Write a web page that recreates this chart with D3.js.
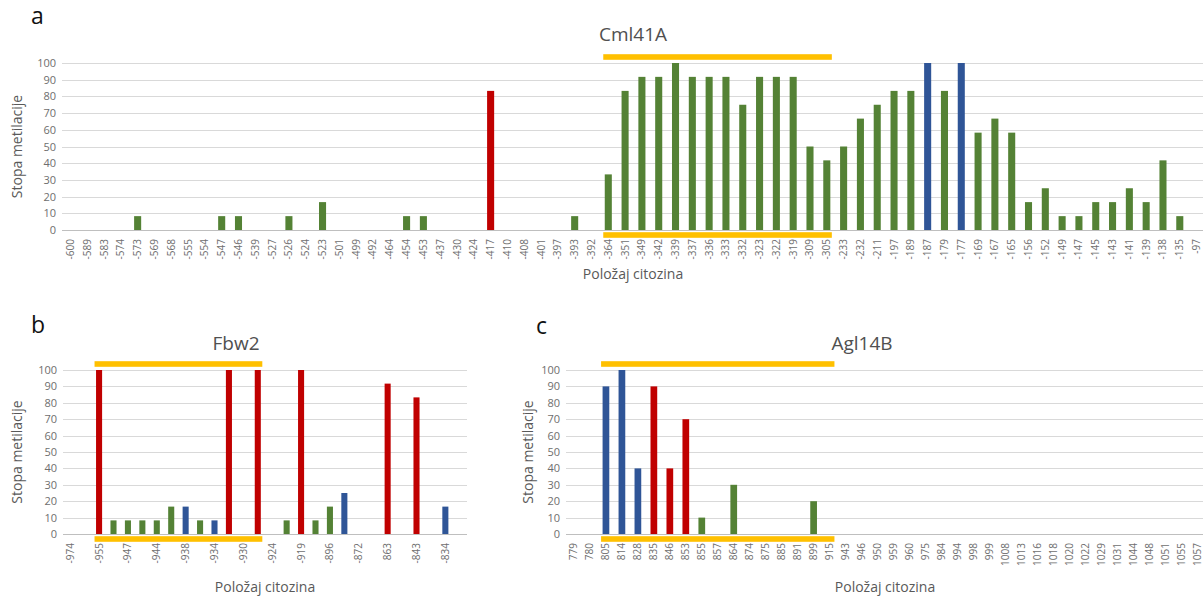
<!DOCTYPE html>
<html>
<head>
<meta charset="utf-8">
<script src="https://cdn.jsdelivr.net/npm/d3@7"></script>
<style>
  body { margin: 0; background: #fff; }
  text { font-family: "Open Sans", "Liberation Sans", sans-serif; }
</style>
</head>
<body>
<div id="chart"></div>
<script>
// ---- data ----
// panel a: Cml41A
var cml_positions = ['-600','-589','-583','-574','-573','-569','-568','-555','-554','-547','-546','-539','-527','-526','-524','-523','-501','-499','-492','-464','-454','-453','-437','-430','-424','-417','-410','-408','-401','-397','-393','-392','-364','-351','-349','-342','-339','-337','-336','-333','-332','-323','-322','-319','-309','-305','-233','-232','-211','-197','-189','-187','-179','-177','-169','-167','-165','-156','-152','-149','-147','-145','-143','-141','-139','-138','-135','-97'];
var cml_values = [0,0,0,0,8.3,0,0,0,0,8.3,8.3,0,0,8.3,0,16.7,0,0,0,0,8.3,8.3,0,0,0,83.3,0,0,0,0,8.3,0,33.3,83.3,91.7,91.7,100,91.7,91.7,91.7,75,91.7,91.7,91.7,50,41.7,50,66.7,75,83.3,83.3,100,83.3,100,58.3,66.7,58.3,16.7,25,8.3,8.3,16.7,16.7,25,16.7,41.7,8.3,0];
var cml_context = ['CHH','CHH','CHH','CHH','CHH','CHH','CHH','CHH','CHH','CHH','CHH','CHH','CHH','CHH','CHH','CHH','CHH','CHH','CHH','CHH','CHH','CHH','CHH','CHH','CHH','CG','CHH','CHH','CHH','CHH','CHH','CHH','CHH','CHH','CHH','CHH','CHH','CHH','CHH','CHH','CHH','CHH','CHH','CHH','CHH','CHH','CHH','CHH','CHH','CHH','CHH','CHG','CHH','CHG','CHH','CHH','CHH','CHH','CHH','CHH','CHH','CHH','CHH','CHH','CHH','CHH','CHH','CHH'];
var cml_region = ['-364', '-305'];

// panel b: Fbw2 (only every second label is printed)
var fbw_positions = ['-974','-960','-955','-950','-947','-946','-944','-940','-938','-936','-934','-932','-930','-926','-924','-921','-919','-910','-896','-880','-872','-868','863','-850','-843','-838','-834','-830'];
var fbw_values = [0,0,100,8.3,8.3,8.3,8.3,16.7,16.7,8.3,8.3,100,0,100,0,8.3,100,8.3,16.7,25,0,0,91.7,0,83.3,0,16.7,0];
var fbw_context = ['CHH','CHH','CG','CHH','CHH','CHH','CHH','CHH','CHG','CHH','CHG','CG','CHH','CG','CHH','CHH','CG','CHH','CHH','CHG','CHH','CHH','CG','CHH','CG','CHH','CHG','CHH'];
var fbw_region = ['-955', '-926'];

// panel c: Agl14B
var agl_positions = ['779','780','805','814','828','835','846','853','855','857','864','874','875','885','891','899','915','943','946','950','959','960','975','984','994','998','999','1008','1013','1016','1018','1020','1022','1029','1031','1044','1048','1051','1055','1057'];
var agl_values = [0,0,90,100,40,90,40,70,10,0,30,0,0,0,0,20,0,0,0,0,0,0,0,0,0,0,0,0,0,0,0,0,0,0,0,0,0,0,0,0];
var agl_context = ['CHH','CHH','CHG','CHG','CHG','CG','CG','CG','CHH','CHH','CHH','CHH','CHH','CHH','CHH','CHH','CHH','CHH','CHH','CHH','CHH','CHH','CHH','CHH','CHH','CHH','CHH','CHH','CHH','CHH','CHH','CHH','CHH','CHH','CHH','CHH','CHH','CHH','CHH','CHH'];
var agl_region = ['805', '915'];

var y_ticks = [0,10,20,30,40,50,60,70,80,90,100];

var colors = { CG: '#C00000', CHG: '#2F5597', CHH: '#548235' };
var region_color = '#FFC000';

var svg = d3.select('#chart')
  .append('svg')
  .attr('width', 1203)
  .attr('height', 599);

function drawPanel(p) {
  var g = svg.append('g');
  var data = p.positions.map(function(d, i) {
    return { pos: d, value: p.values[i], ctx: p.context[i] };
  });

  var x_scale = d3.scaleBand()
    .domain(p.positions)
    .range([p.left, p.right]);

  var y_scale = d3.scaleLinear()
    .domain([0, 100])
    .range([p.bottom, p.top]);

  // gridlines
  g.append('g')
    .selectAll('line')
    .data(y_ticks)
    .enter()
    .append('line')
    .attr('x1', p.left)
    .attr('x2', p.right)
    .attr('y1', function(d) { return Math.round(y_scale(d)) + 0.5; })
    .attr('y2', function(d) { return Math.round(y_scale(d)) + 0.5; })
    .attr('stroke', function(d) { return d === 0 ? '#bfbfbf' : '#d9d9d9'; })
    .attr('stroke-width', 1);

  // y axis
  var y_axis = d3.axisLeft(y_scale).tickValues(y_ticks).tickSize(0).tickPadding(6);
  var ya = g.append('g')
    .attr('transform', 'translate(' + p.left + ',0)')
    .call(y_axis);
  ya.select('.domain').remove();
  ya.selectAll('text')
    .attr('font-size', 11)
    .attr('fill', '#6e6e6e')
    .style('font-family', '"Open Sans", sans-serif');

  // x axis
  var x_axis = d3.axisBottom(x_scale).tickSize(0).tickPadding(0);
  if (p.every) {
    x_axis.tickFormat(function(d, i) { return i % p.every === 0 ? d : ''; });
  }
  var xa = g.append('g')
    .attr('transform', 'translate(0,' + p.bottom + ')')
    .call(x_axis);
  xa.select('.domain').remove();
  xa.selectAll('text')
    .attr('font-size', 10)
    .attr('fill', '#6e6e6e')
    .attr('transform', 'rotate(-90)')
    .attr('x', -9)
    .attr('y', 0)
    .attr('dy', '0.35em')
    .attr('text-anchor', 'end')
    .style('font-family', '"Open Sans", sans-serif');

  var bw = x_scale.bandwidth() * 0.42;

  // bars
  g.append('g')
    .selectAll('rect')
    .data(data.filter(function(d) { return d.value > 0; }))
    .enter()
    .append('rect')
    .attr('x', function(d) { return x_scale(d.pos) + x_scale.bandwidth() / 2 - bw / 2; })
    .attr('y', function(d) { return y_scale(d.value); })
    .attr('width', bw)
    .attr('height', function(d) { return y_scale(0) - y_scale(d.value); })
    .attr('fill', function(d) { return colors[d.ctx]; });

  // region markers
  var rx1 = x_scale(p.region[0]) + x_scale.bandwidth() / 2 - bw / 2 - 1.5;
  var rx2 = x_scale(p.region[1]) + x_scale.bandwidth() / 2 + bw / 2 + 1.5;
  [p.top - 6, p.bottom + 5].forEach(function(yy) {
    g.append('rect')
      .attr('x', rx1)
      .attr('y', yy - 2.8)
      .attr('width', rx2 - rx1)
      .attr('height', 5.6)
      .attr('fill', region_color);
  });

  // titles
  g.append('text')
    .attr('x', p.titleX)
    .attr('y', p.titleY)
    .attr('text-anchor', 'middle')
    .attr('font-size', 19)
    .attr('fill', '#505050')
    .text(p.title);

  g.append('text')
    .attr('x', p.letterX)
    .attr('y', p.letterY)
    .attr('font-size', 23)
    .attr('fill', '#111')
    .text(p.letter);

  g.append('text')
    .attr('transform', 'translate(' + p.yLabelX + ',' + ((p.top + p.bottom) / 2) + ') rotate(-90)')
    .attr('text-anchor', 'middle')
    .attr('font-size', 14)
    .attr('fill', '#595959')
    .text('Stopa metilacije');

  g.append('text')
    .attr('x', p.xLabelX)
    .attr('y', p.xLabelY)
    .attr('text-anchor', 'middle')
    .attr('font-size', 14)
    .attr('fill', '#595959')
    .text('Položaj citozina');
}

drawPanel({
  positions: cml_positions, values: cml_values, context: cml_context, region: cml_region,
  left: 62, right: 1205, top: 63, bottom: 230,
  title: 'Cml41A', titleX: 633, titleY: 41,
  letter: 'a', letterX: 31, letterY: 24,
  yLabelX: 22, xLabelX: 633, xLabelY: 279
});

drawPanel({
  positions: fbw_positions, values: fbw_values, context: fbw_context, region: fbw_region, every: 2,
  left: 63, right: 467, top: 370, bottom: 534,
  title: 'Fbw2', titleX: 236, titleY: 350,
  letter: 'b', letterX: 31, letterY: 333,
  yLabelX: 22, xLabelX: 265, xLabelY: 592
});

drawPanel({
  positions: agl_positions, values: agl_values, context: agl_context, region: agl_region,
  left: 566, right: 1205, top: 370, bottom: 534,
  title: 'Agl14B', titleX: 862, titleY: 350,
  letter: 'c', letterX: 536, letterY: 334,
  yLabelX: 533, xLabelX: 885, xLabelY: 592
});
</script>
</body>
</html>
